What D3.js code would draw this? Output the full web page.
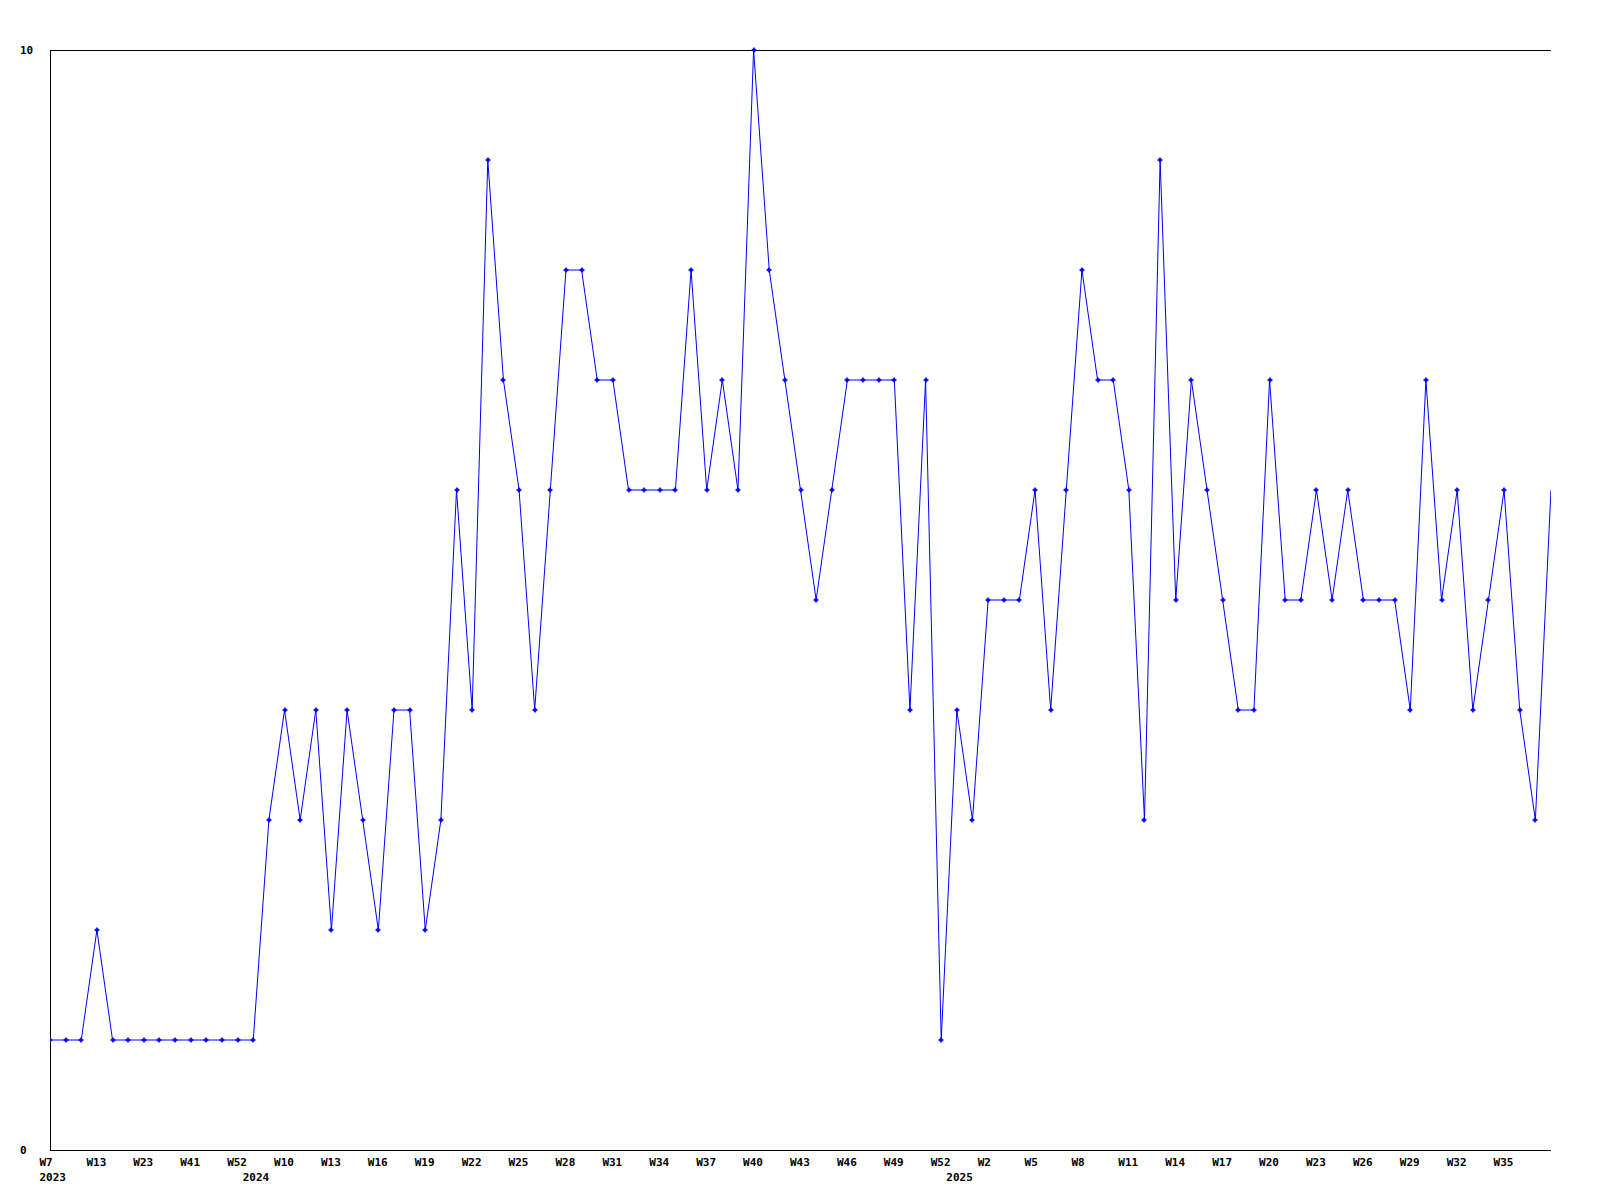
<!DOCTYPE html>
<html>
<head>
<meta charset="utf-8">
<script src="https://cdn.jsdelivr.net/npm/d3@7"></script>
<style>
  body { margin: 0; background: #fff; }
  text { font-family: "DejaVu Sans Mono", monospace; font-weight: bold; font-size: 11px; fill: #000; }
</style>
</head>
<body>
<div id="chart"></div>
<script>
// one value per week that has data
const values = [
  1, 1, 1, 2, 1, 1, 1, 1, 1, 1, 1, 1, 1, 1,
  3, 4, 3, 4, 2, 4, 3, 2, 4, 4, 2, 3, 6, 4, 9, 7, 6, 4, 6, 8, 8, 7, 7,
  6, 6, 6, 6, 8, 6, 7, 6, 10, 8, 7, 6, 5, 6, 7, 7, 7, 7, 4, 7, 1,
  4, 3, 5, 5, 5, 6, 4, 6, 8, 7, 7, 6, 3, 9, 5, 7, 6, 5, 4, 4, 7, 5, 5,
  6, 5, 6, 5, 5, 5, 4, 7, 5, 6, 4, 5, 6, 4, 3, 6
];
// every third week is labelled
const weekLabels = [
  "W7", "W13", "W23", "W41", "W52", "W10", "W13", "W16", "W19", "W22", "W25",
  "W28", "W31", "W34", "W37", "W40", "W43", "W46", "W49", "W52", "W2", "W5",
  "W8", "W11", "W14", "W17", "W20", "W23", "W26", "W29", "W32", "W35"
];
const yearLabels = ["2023", "2024", "2025"];
const yearStart = [0, 13, 58]; // index of first week in each year
const yTicks = [0, 10];

const width = 1600, height = 1200;
const margin = { top: 50, right: 49, bottom: 50, left: 50 };

const svg = d3.select("#chart").append("svg")
  .attr("width", width)
  .attr("height", height);

const x = d3.scaleLinear()
  .domain([0, values.length - 1])
  .range([margin.left, width - margin.right]);

const y = d3.scaleLinear()
  .domain([0, 10])
  .range([height - margin.bottom, margin.top]);

svg.append("clipPath").attr("id", "plot")
  .append("rect")
  .attr("x", margin.left).attr("y", margin.top - 4)
  .attr("width", width - margin.left - margin.right)
  .attr("height", height - margin.top - margin.bottom + 8);

// frame: left, top and bottom lines
const frame = svg.append("g").attr("stroke", "#000").attr("shape-rendering", "crispEdges");
frame.append("line")
  .attr("x1", margin.left).attr("x2", margin.left)
  .attr("y1", margin.top).attr("y2", height - margin.bottom);
frame.append("line")
  .attr("x1", margin.left).attr("x2", width - margin.right)
  .attr("y1", margin.top).attr("y2", margin.top);
frame.append("line")
  .attr("x1", margin.left).attr("x2", width - margin.right)
  .attr("y1", height - margin.bottom).attr("y2", height - margin.bottom);

svg.selectAll(".ylab")
  .data(yTicks)
  .enter()
  .append("text")
  .attr("class", "ylab")
  .attr("x", 20)
  .attr("y", d => y(d) + 3.5)
  .text(d => d);

svg.selectAll(".wlab")
  .data(weekLabels)
  .enter()
  .append("text")
  .attr("class", "wlab")
  .attr("x", (_, i) => x(i * 3) - 10.5)
  .attr("y", height - margin.bottom + 16)
  .text(d => d);

svg.selectAll(".ylab2")
  .data(yearLabels)
  .enter()
  .append("text")
  .attr("class", "ylab2")
  .attr("x", (_, i) => x(yearStart[i]) - 10.5)
  .attr("y", height - margin.bottom + 31)
  .text(d => d);

const line = d3.line()
  .x((_, i) => x(i))
  .y(d => y(d));

const g = svg.append("g").attr("clip-path", "url(#plot)");

g.append("path")
  .datum(values)
  .attr("fill", "none")
  .attr("stroke", "#0000ff")
  .attr("stroke-width", 1)
  .attr("d", line);

g.selectAll(".pt")
  .data(values.slice(0, values.length - 1))
  .enter()
  .append("path")
  .attr("class", "pt")
  .attr("transform", (d, i) => `translate(${Math.round(x(i))},${Math.round(y(d))})`)
  .attr("d", "M-2.5,-0.75H2.5V0.75H-2.5Z M-0.75,-2.5H0.75V2.5H-0.75Z M-1.5,-1.5H1.5V1.5H-1.5Z")
  .attr("fill", "#0000ff");
</script>
</body>
</html>
